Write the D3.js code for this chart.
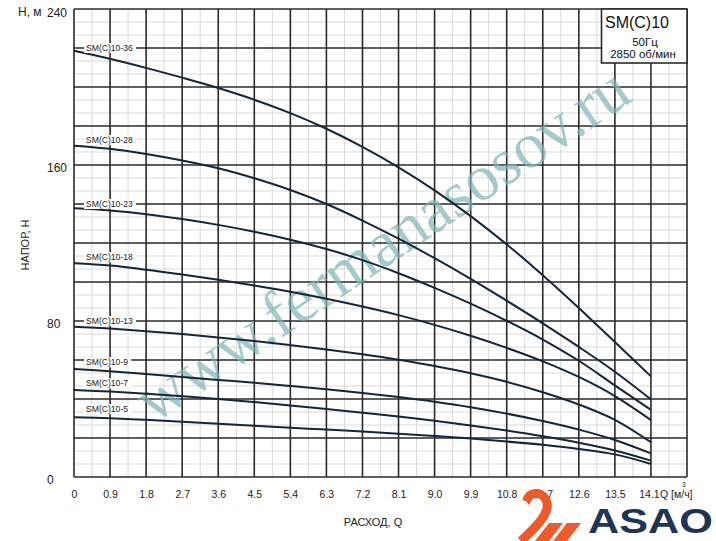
<!DOCTYPE html>
<html><head><meta charset="utf-8">
<script src="https://cdn.jsdelivr.net/npm/d3@7"></script>
<style>html,body{margin:0;padding:0;background:#fff;}svg{display:block;}</style>
</head><body>
<script>
// ---- data ----
const flowQ = [0,0.9,1.8,2.7,3.6,4.5,5.4,6.3,7.2,8.1,9.0,9.9,10.8,11.7,12.6,13.5,14.1];
const xTickLabels = ["0","0.9","1.8","2.7","3.6","4.5","5.4","6.3","7.2","8.1","9.0","9.9","10.8","11.7","12.6","13.5","14.1"];
const yTickValues = [0,80,160,240];
const seriesNames = ["SM(C)10-36","SM(C)10-28","SM(C)10-23","SM(C)10-18","SM(C)10-13","SM(C)10-9","SM(C)10-7","SM(C)10-5"];
const h36 = [218.6,214.5,209.8,204.8,199.5,193.5,186.6,178.6,169.3,158.8,147,133.8,119.3,103.5,86.7,69.2,51.6];
const h28 = [169.9,168.3,165.6,162.3,158.3,153.2,147.2,140,131.5,122.2,112.2,101.6,90.4,78.8,66.7,54,39.8];
const h23 = [137.8,136.7,134.8,132.3,129.3,125.8,121.7,116.9,111.2,104.5,97,88.9,80.1,70.5,59.6,47,34.4];
const h18 = [109.6,108.4,106.3,103.8,101.1,98.2,95,91.4,87.4,83,78,72.4,66.2,59.3,51.3,41.5,29.2];
const h13 = [77.1,76.1,74.8,73.3,71.6,69.7,67.6,65.4,62.9,60.1,56.9,53.2,48.8,43.5,37.2,29.3,17.8];
const h9  = [55.4,54.2,52.8,51.3,49.8,48.3,46.7,45,43.1,41,38.6,35.8,32.5,28.7,24.3,19,12.1];
const h7  = [44.6,43.8,42.7,41.4,40,38.4,36.7,34.9,33,31,28.8,26.4,23.8,20.9,17.6,13.6,8.4];
const h5  = [30.6,30.1,29.3,28.3,27.3,26.3,25.3,24.3,23.3,22.2,21,19.7,18.2,16.5,14.4,11.6,6.7];
const seriesValues = [h36,h28,h23,h18,h13,h9,h7,h5];
// label anchor heights (layout only)
const labelH = [220,172.8,140,112.7,80,58.8,48,34.8];

// ---- layout ----
const W = 716, H = 541;
const L = 74, R = 687, T = 9, B = 477;
const nCols = 17;
const svg = d3.select("body").append("svg").attr("width",W).attr("height",H)
  .style("font-family","'Liberation Sans', Arial, sans-serif");

const gx = d3.scaleLinear().domain([0,nCols]).range([L,R]);
const step = (R-L)/nCols;
const x = d3.scaleLinear().domain([0,13.5,14.1]).range([L, L+15*step, L+16*step]);
const y = d3.scaleLinear().domain([0,240]).range([B,T]);

// minor grid
const g = svg.append("g");
for (let k=0;k<=nCols*2;k++){ if(k%2) g.append("line").attr("x1",gx(k/2)).attr("x2",gx(k/2)).attr("y1",T).attr("y2",B).attr("stroke","#d9d9d9").attr("stroke-width",1); }
for (let v=0; v<=240; v+=20/3){ const r=Math.round(v*3)%60; if(r!==0) g.append("line").attr("x1",L).attr("x2",R).attr("y1",y(v)).attr("y2",y(v)).attr("stroke","#d9d9d9").attr("stroke-width",1); }
// major grid
for (let k=0;k<=nCols;k++) g.append("line").attr("x1",gx(k)).attr("x2",gx(k)).attr("y1",T).attr("y2",B).attr("stroke","#2a2a2a").attr("stroke-width",1.6);
for (let v=0; v<=240; v+=20) g.append("line").attr("x1",L).attr("x2",R).attr("y1",y(v)).attr("y2",y(v)).attr("stroke","#2a2a2a").attr("stroke-width",1.6);

// watermark
svg.append("text").attr("x",0).attr("y",0)
  .attr("transform","translate(394,262) rotate(-34)")
  .attr("text-anchor","middle")
  .style("font-family","'Liberation Serif','DejaVu Serif',serif")
  .style("font-size","65px").attr("fill","#7fb5b6").attr("opacity",0.7)
  .text("www.fermanasosov.ru");

// curves
const line = d3.line().x((d,i)=>x(flowQ[i])).y(d=>y(d)).curve(d3.curveCatmullRom.alpha(0.5));
seriesValues.forEach(s=>{
  svg.append("path").attr("d",line(s)).attr("fill","none").attr("stroke","#15263a").attr("stroke-width",2);
});

// series labels
seriesNames.forEach((n,i)=>{
  const t = svg.append("text").attr("x",86).attr("y",y(labelH[i])).attr("dy","0.35em")
    .style("font-size","8.6px").attr("fill","#222").text(n);
  const bb = t.node().getBBox();
  svg.insert("rect", () => t.node()).attr("x",bb.x-2).attr("y",bb.y).attr("width",bb.width+5).attr("height",bb.height).attr("fill","#fff");
});

// title box
svg.append("rect").attr("x",601.5).attr("y",T).attr("width",R-601.5).attr("height",54).attr("fill","#fff").attr("stroke","#2a2a2a").attr("stroke-width",1.6);
svg.append("text").attr("x",637).attr("y",22).attr("dy","0.35em").attr("text-anchor","middle").style("font-size","16px").attr("fill","#111").text("SM(C)10");
svg.append("text").attr("x",645).attr("y",41.5).attr("dy","0.35em").attr("text-anchor","middle").style("font-size","11.5px").attr("fill","#111").text("50Гц");
svg.append("text").attr("x",643).attr("y",54).attr("dy","0.35em").attr("text-anchor","middle").style("font-size","11.5px").attr("fill","#111").text("2850 об/мин");

// x axis labels
const xAxis = d3.axisBottom(x).tickValues(flowQ).tickFormat((d,i)=>xTickLabels[i]).tickSize(0).tickPadding(0);
const xa = svg.append("g").attr("transform",`translate(0,${B})`).call(xAxis);
xa.select(".domain").remove();
xa.selectAll("text").attr("y",21).attr("dy","0").style("font-size","10.5px").style("font-family","'Liberation Sans', Arial, sans-serif").attr("fill","#222");
xa.selectAll(".tick").filter(d=>d===14.1).select("text").attr("x",-2);

// y axis labels
const yAxis = d3.axisLeft(y).tickValues(yTickValues).tickSize(0).tickPadding(0);
const ya = svg.append("g").attr("transform",`translate(${L},0)`).call(yAxis);
ya.select(".domain").remove();
ya.selectAll("text").attr("x",-27).attr("dy","0.5em").attr("text-anchor","start").style("font-size","12px").style("font-family","'Liberation Sans', Arial, sans-serif").attr("fill","#222");
ya.selectAll(".tick").filter(d=>d===240).select("text").attr("dy","0.62em");

// axis titles
svg.append("text").attr("x",18).attr("y",12).attr("dy","0.35em").style("font-size","12px").attr("fill","#222").text("Н, м");
svg.append("text").attr("transform","translate(29,245) rotate(-90)").attr("text-anchor","middle").style("font-size","11px").attr("fill","#222").text("НАПОР, Н");
svg.append("text").attr("x",373).attr("y",522).attr("dy","0.35em").attr("text-anchor","middle").style("font-size","11px").attr("fill","#222").text("РАСХОД, Q");
svg.append("text").attr("x",660).attr("y",498).style("font-size","10.5px").attr("fill","#222").text("Q [м/ч]");
svg.append("text").attr("x",682).attr("y",487).style("font-size","6.5px").attr("fill","#222").text("3");

// logo
const lg = svg.append("g");
lg.append("path").attr("d","M521 541 C 536 527, 552 512, 546 500 C 541 490, 528 492, 527 501").attr("fill","none").attr("stroke","#f0592a").attr("stroke-width",9).attr("stroke-linecap","butt");
lg.append("path").attr("d","M523 497 L 534 496 L 529 505 Z").attr("fill","#f0592a");
lg.append("path").attr("d","M549 523 L 563 523 L 549 541 L 535 541 Z").attr("fill","#f0592a");
lg.append("path").attr("d","M567 523 L 581 523 L 567 541 L 553 541 Z").attr("fill","#f0592a");
svg.append("text").attr("transform","translate(588,533) scale(1.2,1)").style("font-size","36px").style("font-weight","bold").attr("fill","#203556").text("ASAO");
</script>
</body></html>
